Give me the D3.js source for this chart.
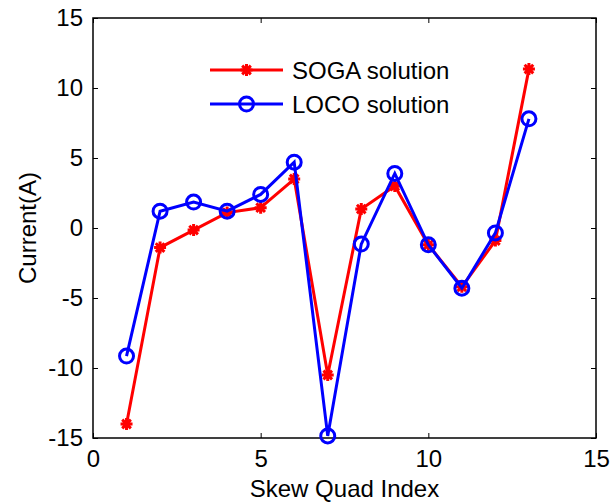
<!DOCTYPE html>
<html>
<head>
<meta charset="utf-8">
<script src="https://cdn.jsdelivr.net/npm/d3@7"></script>
<style>
  body { margin: 0; background: #fff; }
  text { font-family: "Liberation Sans", Arial, sans-serif; fill: #000; }
</style>
</head>
<body>
<svg id="chart" width="610" height="502"></svg>
<script>
// data
var quadIndex = [1, 2, 3, 4, 5, 6, 7, 8, 9, 10, 11, 12, 13];
var sogaValues = [-14.0, -1.4, -0.15, 1.1, 1.45, 3.5, -10.5, 1.35, 3.0, -1.2, -4.2, -0.9, 11.35];
var locoValues = [-9.15, 1.2, 1.85, 1.2, 2.4, 4.7, -14.85, -1.15, 3.9, -1.2, -4.3, -0.35, 7.8];
var xTicks = [0, 5, 10, 15];
var yTicks = [-15, -10, -5, 0, 5, 10, 15];
var seriesNames = ['SOGA solution', 'LOCO solution'];

var margin = {top: 18, right: 14, bottom: 64, left: 93};
var width = 610 - margin.left - margin.right,
    height = 502 - margin.top - margin.bottom;
var fontSize = '24px';

var svg = d3.select('#chart');
var g = svg.append('g')
    .attr('transform', `translate(${margin.left}, ${margin.top})`);

var x = d3.scaleLinear().domain([0, 15]).range([0, width]);
var y = d3.scaleLinear().domain([-15, 15]).range([height, 0]);

// plain hyphen for negatives, like the original
var plain = d => String(d);

// axes, matlab style: ticks inside, box around
function styleAxis(sel) {
    sel.select('.domain').remove();
    sel.selectAll('line').attr('stroke', '#000').attr('stroke-width', 1);
    sel.selectAll('text').style('font-size', fontSize);
}

g.append('g')
    .attr('transform', `translate(0, ${height})`)
    .call(d3.axisBottom(x).tickValues(xTicks).tickSizeInner(-5).tickSizeOuter(0).tickPadding(12).tickFormat(plain))
    .call(styleAxis);

g.append('g')
    .call(d3.axisTop(x).tickValues(xTicks).tickSizeInner(-5).tickSizeOuter(0).tickFormat(''))
    .call(styleAxis);

g.append('g')
    .call(d3.axisLeft(y).tickValues(yTicks).tickSizeInner(-5).tickSizeOuter(0).tickPadding(10).tickFormat(plain))
    .call(styleAxis);

g.append('g')
    .attr('transform', `translate(${width}, 0)`)
    .call(d3.axisRight(y).tickValues(yTicks).tickSizeInner(-5).tickSizeOuter(0).tickFormat(''))
    .call(styleAxis);

g.append('rect')
    .attr('width', width)
    .attr('height', height)
    .attr('fill', 'none')
    .attr('stroke', '#000')
    .attr('stroke-width', 1.5);

// axis titles
svg.append('text')
    .attr('x', margin.left + width / 2)
    .attr('y', 497)
    .style('font-size', fontSize)
    .style('text-anchor', 'middle')
    .text('Skew Quad Index');

svg.append('text')
    .attr('transform', `translate(36, ${margin.top + height / 2}) rotate(-90)`)
    .style('font-size', fontSize)
    .style('text-anchor', 'middle')
    .text('Current(A)');

var line = d3.line()
    .x(d => x(d[0]))
    .y(d => y(d[1]));

function starPath(cx, cy, r) {
    var d = r * 0.72;
    return `M${cx - r},${cy}L${cx + r},${cy}M${cx},${cy - r}L${cx},${cy + r}` +
           `M${cx - d},${cy - d}L${cx + d},${cy + d}M${cx - d},${cy + d}L${cx + d},${cy - d}`;
}

var sogaData = quadIndex.map((q, i) => [q, sogaValues[i]]);
var locoData = quadIndex.map((q, i) => [q, locoValues[i]]);

// SOGA (red, star markers)
g.append('path')
    .datum(sogaData)
    .attr('d', line)
    .attr('fill', 'none')
    .attr('stroke', '#ff0000')
    .attr('stroke-width', 3);

g.selectAll('.soga-mark')
    .data(sogaData)
    .enter()
    .append('path')
        .classed('soga-mark', true)
        .attr('d', d => starPath(x(d[0]), y(d[1]), 6))
        .attr('stroke', '#ff0000')
        .attr('stroke-width', 3);

// LOCO (blue, circle markers)
g.append('path')
    .datum(locoData)
    .attr('d', line)
    .attr('fill', 'none')
    .attr('stroke', '#0000ff')
    .attr('stroke-width', 3);

g.selectAll('.loco-mark')
    .data(locoData)
    .enter()
    .append('circle')
        .classed('loco-mark', true)
        .attr('cx', d => x(d[0]))
        .attr('cy', d => y(d[1]))
        .attr('r', 7)
        .attr('fill', 'none')
        .attr('stroke', '#0000ff')
        .attr('stroke-width', 3);

// legend
var legend = svg.append('g').attr('transform', 'translate(210, 70)');
var colors = ['#ff0000', '#0000ff'];
seriesNames.forEach(function(name, i) {
    var row = legend.append('g').attr('transform', `translate(0, ${i * 34})`);
    row.append('line')
        .attr('x1', 0).attr('x2', 73)
        .attr('stroke', colors[i])
        .attr('stroke-width', 3);
    if (i === 0) {
        row.append('path')
            .attr('d', starPath(36.5, 0, 6))
            .attr('stroke', colors[i])
            .attr('stroke-width', 3);
    } else {
        row.append('circle')
            .attr('cx', 36.5).attr('r', 7)
            .attr('fill', 'none')
            .attr('stroke', colors[i])
            .attr('stroke-width', 3);
    }
    row.append('text')
        .attr('x', 82)
        .attr('y', 8.5)
        .style('font-size', fontSize)
        .text(name);
});
</script>
</body>
</html>
